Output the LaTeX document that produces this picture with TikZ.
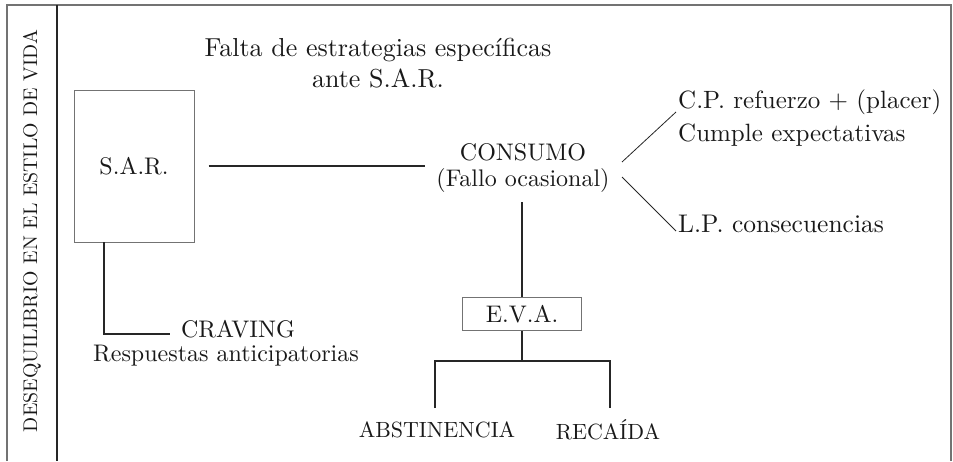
\documentclass[tikz,border=0pt]{standalone}
\usepackage{fontspec}
\setmainfont{lmroman10-regular.otf}
\begin{document}
\begin{tikzpicture}[x=1pt,y=-1pt,
  txt/.style={inner sep=0pt, font=\fontsize{24}{26}\selectfont, text=black!90},
  boxed/.style={draw=black!55, line width=1pt, inner sep=0pt, font=\fontsize{24}{26}\selectfont, text=black!90},
  ln/.style={draw=black!85, line width=1.1pt},
  frame/.style={draw=black!55, line width=1.2pt}]
\useasboundingbox (0,0) rectangle (953,461);
% frame
\draw[frame] (7,461) -- (7,5) -- (951,5) -- (951,461);
\draw[ln] (57,5) -- (57,461);
\node[txt, rotate=90, font=\fontsize{19.8}{24}\selectfont] (vt) at (32,231) {DESEQUILIBRIO EN EL ESTILO DE VIDA};
% title
\node[txt, align=center, font=\fontsize{26}{31}\selectfont] (title) at (378,63) {Falta de estrategias específicas\\ante S.A.R.};
% S.A.R.
\node[boxed, minimum width=120pt, minimum height=152pt] (sar) at (134,166) {S.A.R.};
% consumo
\node[txt, align=center] (cons) at (523,168) {CONSUMO\\(Fallo ocasional)};
\coordinate (lineend) at (425,166);
\draw[ln] ([xshift=14pt]sar.east) -- (lineend);
% right branches
\node[txt, align=left, anchor=west, font=\fontsize{25}{33}\selectfont] (cp) at (678,118) {C.P. refuerzo + (placer)\\Cumple expectativas};
\node[txt, anchor=west, font=\fontsize{25.5}{33}\selectfont] (lp) at (678,224) {L.P. consecuencias};
\coordinate (d1s) at (622,162);
\coordinate (d1e) at (676,112);
\coordinate (d2s) at (622,177);
\coordinate (d2e) at (676,231);
\draw[ln, line width=0.8pt] (d1s) -- (d1e);
\draw[ln, line width=0.8pt] (d2s) -- (d2e);
% E.V.A.
\node[boxed, minimum width=119pt, minimum height=33pt] (eva) at (522,314) {E.V.A.};
\coordinate (cbot) at (522,202);
\draw[ln] (cbot) -- (eva.north);
\coordinate (junc) at (522,361);
\coordinate (jl) at (435,361);
\coordinate (jr) at (610,361);
\coordinate (jlb) at (435,408);
\coordinate (jrb) at (610,408);
\draw[ln] (eva.south) -- (junc);
\draw[ln] (jlb) -- (jl) -- (jr) -- (jrb);
\node[txt, font=\fontsize{22}{26}\selectfont] (abs) at (437,430) {ABSTINENCIA};
\node[txt, font=\fontsize{22}{26}\selectfont] (rec) at (608,430) {RECAÍDA};
% craving
\coordinate (cv1) at (104,242);
\coordinate (cv2) at (104,334);
\coordinate (cv3) at (170,334);
\draw[ln] (cv1) -- (cv2) -- (cv3);
\node[txt] (crav) at (238,329) {CRAVING};
\node[txt] (resp) at (226,356) {Respuestas anticipatorias};
\end{tikzpicture}
\end{document}
